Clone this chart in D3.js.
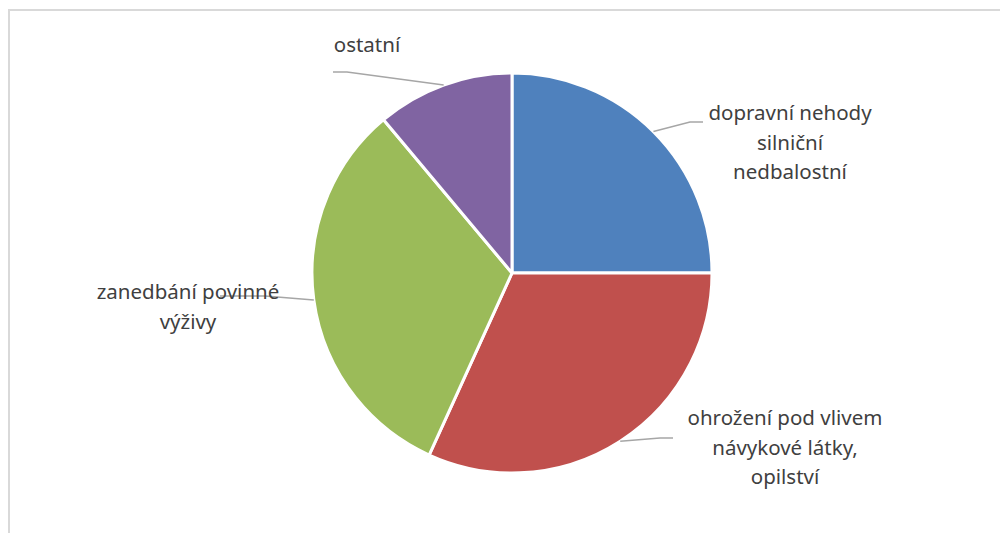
<!DOCTYPE html>
<html>
<head>
  <meta charset="utf-8">
  <script src="https://d3js.org/d3.v7.min.js"></script>
  <style>
    body { margin: 0; background: #fff; }
    svg { display: block; }
    .lbl { font-family: "Noto Sans", sans-serif; font-size: 20.5px; fill: #404040; }
    .leader { fill: none; stroke: #a6a6a6; stroke-width: 1.5; }
  </style>
</head>
<body>
  <svg width="1000" height="533"></svg>
  <script>
    // data (share of cases)
    var categories = ["dopravní nehody silniční nedbalostní",
                      "ohrožení pod vlivem návykové látky, opilství",
                      "zanedbání povinné výživy",
                      "ostatní"];
    var values = [25.0, 31.8, 32.1, 11.1];
    var labelLines = [["dopravní nehody", "silniční", "nedbalostní"],
                      ["ohrožení pod vlivem", "návykové látky,", "opilství"],
                      ["zanedbání povinné", "výživy"],
                      ["ostatní"]];
    var colors = ["#4f81bd", "#c0504d", "#9bbb59", "#8064a2"];

    // label layout: text centre x, first line y, leader elbow and end
    var labelLayout = [
      { x: 790, y: 113, elbow: [690, 122], end: [703, 122] },
      { x: 785, y: 418, elbow: [660, 438], end: [673, 438] },
      { x: 188, y: 292, elbow: [265, 296], end: [220, 296] },
      { x: 367, y: 45,  elbow: [347, 72],  end: [333, 72] }
    ];

    var svg = d3.select("svg");
    var cx = 512, cy = 273, radius = 200;

    // chart frame
    svg.append("rect")
      .attr("x", 9).attr("y", 10)
      .attr("width", 1000).attr("height", 600)
      .attr("fill", "none")
      .attr("stroke", "#d9d9d9")
      .attr("stroke-width", 2);

    var pie = d3.pie().sort(null).value(function(d) { return d; });
    var arcs = pie(values);
    var arc = d3.arc().innerRadius(0).outerRadius(radius);

    var g = svg.append("g").attr("transform", "translate(" + cx + "," + cy + ")");

    g.selectAll("path")
      .data(arcs)
      .enter()
      .append("path")
      .attr("d", arc)
      .attr("fill", function(d, i) { return colors[i]; })
      .attr("stroke", "#fff")
      .attr("stroke-width", 3)
      .attr("stroke-linejoin", "round");

    // leader lines start on the rim at the slice middle
    function rimPoint(d) {
      var a = (d.startAngle + d.endAngle) / 2;
      return [cx + radius * Math.sin(a), cy - radius * Math.cos(a)];
    }

    svg.selectAll("polyline.leader")
      .data(arcs)
      .enter()
      .append("polyline")
      .attr("class", "leader")
      .attr("points", function(d, i) {
        var l = labelLayout[i];
        return [rimPoint(d), l.elbow, l.end].map(function(p) { return p.join(","); }).join(" ");
      });

    var lineH = 29.5;
    var labels = svg.selectAll("text.lbl")
      .data(labelLines)
      .enter()
      .append("text")
      .attr("class", "lbl")
      .attr("text-anchor", "middle");

    labels.each(function(lines, i) {
      var t = d3.select(this), l = labelLayout[i];
      lines.forEach(function(s, k) {
        t.append("tspan")
          .attr("x", l.x)
          .attr("y", l.y + k * lineH)
          .attr("dy", "0.35em")
          .text(s);
      });
    });
  </script>
</body>
</html>
